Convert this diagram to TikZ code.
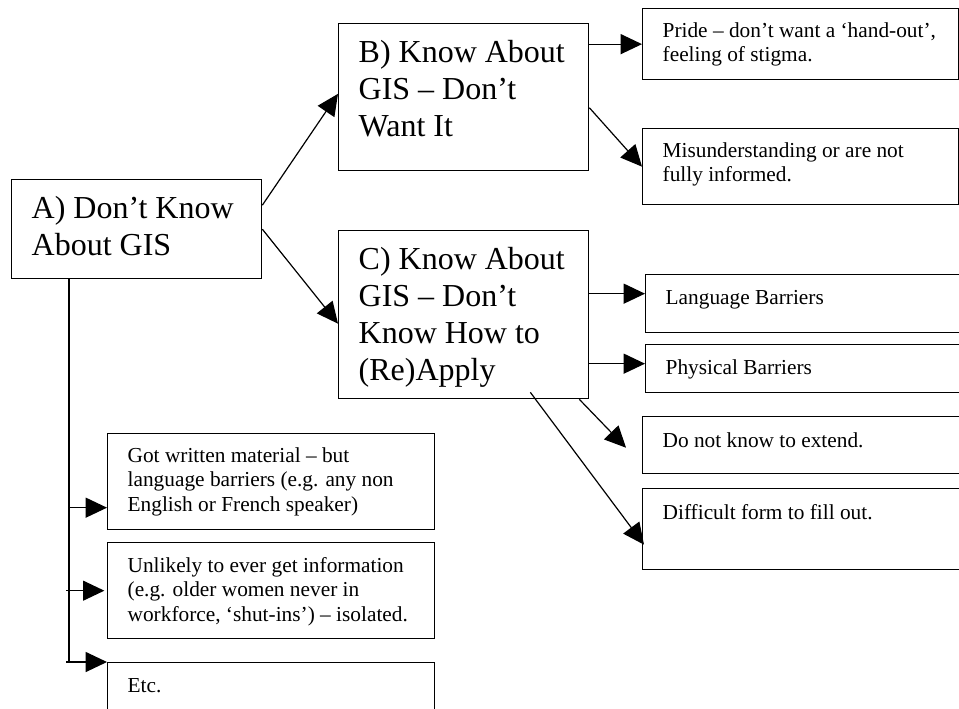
\documentclass[tikz,border=0pt]{standalone}
\usepackage{fontspec}
\setmainfont{Liberation Serif}
\usetikzlibrary{arrows.meta,calc}

% text set at the top left of a box of fixed size
\newcommand{\celltext}[3]{\parbox[c][#2][t]{#1}{\raggedright\strut #3}}

\begin{document}
\begin{tikzpicture}[x=0.75pt,y=-0.75pt,
  bigbox/.style={draw, line width=1pt, anchor=north west, inner xsep=15pt, inner ysep=10pt, font=\fontsize{24}{27.6}\selectfont},
  smallbox/.style={draw, line width=1pt, anchor=north west, inner xsep=15pt, font=\fontsize{16}{18.4}\selectfont},
  link/.style={line width=0.9pt, -{Triangle[length=16pt,width=15pt]}}]
\useasboundingbox (0,0) rectangle (959,708);

% main boxes
\node[bigbox] (A) at (11,179) {\celltext{157.5pt}{54.25pt}{A) Don’t Know\\About GIS}};
\node[bigbox] (B) at (338,23) {\celltext{157.5pt}{90.25pt}{B) Know About\\GIS – Don’t\\Want It}};
\node[bigbox] (C) at (338,230) {\celltext{157.5pt}{106pt}{C) Know About\\GIS – Don’t\\Know How to\\(Re)Apply}};

% reasons for B
\node[smallbox, inner ysep=8.6pt] (pride) at (642,8) {\celltext{207pt}{36pt}{Pride – don’t want a ‘hand-out’,\\feeling of stigma.}};
\node[smallbox, inner ysep=8.6pt] (mis) at (642,128) {\celltext{207pt}{39.8pt}{Misunderstanding or are not\\fully informed.}};

% reasons for C
\node[smallbox, inner ysep=9.75pt] (lang) at (645,274) {\celltext{212.25pt}{24pt}{Language Barriers}};
\node[smallbox, inner ysep=9.75pt] (phys) at (645,344) {\celltext{212.25pt}{16.5pt}{Physical Barriers}};
\node[smallbox, inner ysep=10.5pt] (donot) at (642,416) {\celltext{214.5pt}{21.75pt}{Do not know to extend.}};
\node[smallbox, inner ysep=10.5pt] (diff) at (642,488) {\celltext{214.5pt}{39.75pt}{Difficult form to fill out.}};

% reasons for A
\node[smallbox, inner ysep=8.6pt] (got) at (107,433) {\celltext{215.25pt}{54.8pt}{Got written material – but\\language barriers (e.g. any non\\English or French speaker)}};
\node[smallbox, inner ysep=9.4pt] (unl) at (107,542) {\celltext{215.25pt}{53.2pt}{Unlikely to ever get information\\(e.g. older women never in\\workforce, ‘shut-ins’) – isolated.}};
\node[smallbox, inner ysep=9.75pt] (etc) at (107,662) {\celltext{215.25pt}{25.5pt}{Etc.}};

% connectors
\draw[link] ([yshift=18pt]A.east) -- ([yshift=2.5pt]B.west);
\draw[link] (A.east) -- ([yshift=-6.75pt]C.west);

\draw[link] (B.east |- pride.west) -- (pride.west);
\draw[link] ([yshift=-7.9pt]B.east) -- (mis.west);

\coordinate (langin) at ([yshift=7.5pt]lang.west);
\coordinate (physin) at ([yshift=3.75pt]phys.west);
\draw[link] (C.east |- langin) -- (langin);
\draw[link] (C.east |- physin) -- (physin);
\draw[link] ([xshift=-7.5pt]C.south east) -- ([xshift=-12pt,yshift=-1.9pt]donot.west);
\draw[link] ([xshift=-44.25pt,yshift=5.25pt]C.south east) -- ([xshift=1.5pt,yshift=-11.6pt]diff.west);

% trunk under A
\coordinate (trunk) at ([xshift=43.5pt]A.south west);
\coordinate (gotin) at ([yshift=-19.5pt]got.west);
\draw[line width=0.9pt] (trunk) -- (trunk |- etc.north west);
\draw[link] (trunk |- gotin) -- (gotin);
\draw[link] ($(trunk |- unl.west)+(-3,0)$) -- ([xshift=-2pt]unl.west);
\draw[link] ($(trunk |- etc.north west)+(-3,0)$) -- (etc.north west);
\end{tikzpicture}
\end{document}
